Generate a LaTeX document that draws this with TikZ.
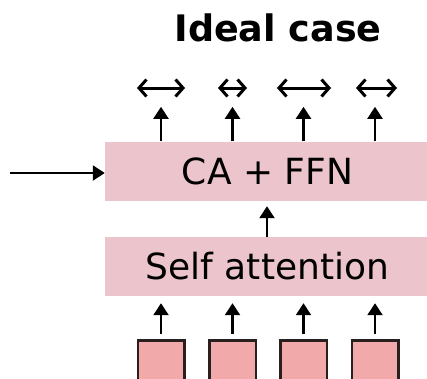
\documentclass[tikz,border=0pt]{standalone}
\usepackage{fontspec}
\setmainfont{DejaVu Sans}
\usetikzlibrary{arrows.meta}
\definecolor{blockpink}{HTML}{EBC5CB}
\definecolor{tokenpink}{HTML}{F2A9A9}
\definecolor{tokenedge}{HTML}{2A1F1F}
\tikzset{
  block/.style={fill=blockpink, draw=none, minimum width=325pt, minimum height=59pt,
    inner sep=0pt, font=\fontsize{36}{40}\selectfont},
  token/.style={fill=tokenpink, draw=tokenedge, line width=2.5pt, minimum size=46.5pt, inner sep=0pt},
  uparrow/.style={line width=2.2pt, -{Triangle[length=12pt,width=15pt]}},
  spanarrow/.style={line width=3pt, {Straight Barb[length=7.5pt,width=17pt]}-{Straight Barb[length=7.5pt,width=17pt]}},
}
\begin{document}
\begin{tikzpicture}[x=1pt, y=-1pt]
\useasboundingbox (0,0) rectangle (427,378);
\clip (0,0) rectangle (427,378);

% title
\node[font=\fontsize{36.5}{40}\selectfont\bfseries] (title) at (278,28) {Ideal case};

% the two stacked blocks
\node[block] (ca) at (267.5,171.5) {CA + FFN};
\node[block] (sa) at (267.5,266.5) {Self attention};

% input tokens
\node[token, anchor=north] (s1) at (161,339) {};
\node[token, anchor=north] (s2) at (232.5,339) {};
\node[token, anchor=north] (s3) at (303.5,339) {};
\node[token, anchor=north] (s4) at (375,339) {};

% tokens into self attention
\foreach \i in {1,...,4}
  \draw[uparrow] ([yshift=5pt]s\i.north) -- ([yshift=-7pt]sa.south -| s\i.north);

% self attention into CA + FFN
\draw[uparrow] ([yshift=-0.5pt]sa.north -| 267,0) -- ([yshift=-5pt]ca.south -| 267,0);

% external input from the left
\coordinate (src) at (10,173);
\draw[uparrow] (src) -- (ca.west |- src);

% outputs
\foreach \i in {1,...,4}
  \draw[uparrow] ([yshift=0.5pt]ca.north -| s\i.north) -- ([yshift=35pt]ca.north -| s\i.north);

% span arrows above each output
\coordinate (a1) at (137,88); \coordinate (b1) at (185,88);
\coordinate (a2) at (218,88); \coordinate (b2) at (247,88);
\coordinate (a3) at (277,88); \coordinate (b3) at (331,88);
\coordinate (a4) at (356,88); \coordinate (b4) at (397,88);
\foreach \i in {1,...,4}
  \draw[spanarrow] (a\i) -- (b\i);
\end{tikzpicture}
\end{document}
